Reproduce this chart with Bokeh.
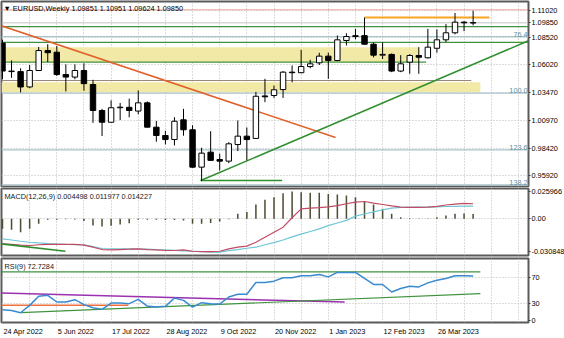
from bokeh.plotting import figure
from bokeh.layouts import column
from bokeh.models import (Range1d, FixedTicker, Label, ColumnDataSource, CustomJSTickFormatter,
                          AllLabels, LinearAxis)
from bokeh.core.properties import value
from bokeh.embed import file_html
from bokeh.resources import INLINE

# ---------------- data ----------------
week_index = list(range(53))
date_tick_index = [0, 6, 12, 18, 24, 30, 36, 42, 48]
date_tick_labels = ["24 Apr 2022", "5 Jun 2022", "17 Jul 2022", "28 Aug 2022", "9 Oct 2022",
                    "20 Nov 2022", "1 Jan 2023", "12 Feb 2023", "26 Mar 2023"]
grid_index = list(range(0, 58, 3))

opens = [1.0800, 1.0545, 1.0540, 1.0400, 1.0550, 1.0732, 1.0717, 1.0513, 1.0490, 1.0550,
         1.0422, 1.0185, 1.0078, 1.0212, 1.0214, 1.0180, 1.0255, 1.0033, 0.9957, 0.9920,
         1.0100, 1.0009, 0.9668, 0.9805, 0.9738, 0.9723, 0.9875, 0.9951, 0.9930, 1.0318,
         1.0322, 1.0376, 1.0535, 1.0530, 1.0586, 1.0620, 1.0681, 1.0641, 1.0824, 1.0860,
         1.0868, 1.0790, 1.0690, 1.0697, 1.0545, 1.0626, 1.0687, 1.0666, 1.0753, 1.0830,
         1.0894, 1.0991, 1.0985]
highs = [1.0830, 1.0642, 1.0570, 1.0600, 1.0765, 1.0790, 1.0773, 1.0606, 1.0606, 1.0615,
         1.0465, 1.0200, 1.0278, 1.0254, 1.0293, 1.0368, 1.0268, 1.0090, 1.0000, 1.0124,
         1.0200, 1.0051, 0.9845, 0.9996, 0.9790, 0.9896, 1.0094, 1.0030, 1.0355, 1.0474,
         1.0413, 1.0545, 1.0596, 1.0739, 1.0648, 1.0712, 1.0713, 1.0869, 1.0890, 1.0930,
         1.1033, 1.0805, 1.0805, 1.0705, 1.0690, 1.0700, 1.0763, 1.0930, 1.0925, 1.0973,
         1.1075, 1.1000, 1.1095]
lows = [1.0472, 1.0483, 1.0350, 1.0388, 1.0550, 1.0627, 1.0500, 1.0359, 1.0470, 1.0365,
        1.0072, 0.9952, 1.0077, 1.0098, 1.0123, 1.0150, 1.0030, 0.9900, 0.9875, 0.9866,
        0.9955, 0.9662, 0.9540, 0.9725, 0.9638, 0.9705, 0.9815, 0.9730, 0.9930, 1.0261,
        1.0300, 1.0300, 1.0443, 1.0525, 1.0570, 1.0600, 1.0474, 1.0635, 1.0778, 1.0835,
        1.0787, 1.0670, 1.0655, 1.0535, 1.0535, 1.0520, 1.0520, 1.0660, 1.0713, 1.0810,
        1.0880, 1.0909, 1.0962]
closes = [1.0545, 1.0540, 1.0400, 1.0550, 1.0732, 1.0712, 1.0513, 1.0490, 1.0550, 1.0430,
          1.0185, 1.0078, 1.0210, 1.0214, 1.0185, 1.0255, 1.0033, 0.9957, 0.9920, 1.0087,
          1.0009, 0.9668, 0.9796, 0.9730, 0.9723, 0.9881, 0.9951, 0.9920, 1.0315, 1.0310,
          1.0374, 1.0535, 1.0530, 1.0586, 1.0611, 1.0681, 1.0641, 1.0830, 1.0860, 1.0868,
          1.0790, 1.0690, 1.0697, 1.0545, 1.0611, 1.0687, 1.0671, 1.0763, 1.0830, 1.0894,
          1.0991, 1.0985, 1.0985]

macd_hist = [-0.0094, -0.0104, -0.0126, -0.0094, -0.0047, -0.0010, -0.0008, -0.0005, -0.0006, -0.0020,
             -0.0063, -0.0073, -0.0066, -0.0054, -0.0042, -0.0008, -0.0008, -0.0010, -0.0012, -0.0012,
             -0.0015, -0.0047, -0.0047, -0.0040, -0.0025, -0.0005, 0.0047, 0.0063, 0.0135, 0.0179,
             0.0204, 0.0241, 0.0257, 0.0250, 0.0245, 0.0245, 0.0235, 0.0229, 0.0220, 0.0204,
             0.0166, 0.0135, 0.0094, 0.0047, 0.0015, 0.0006, 0.0002, 0.0002, 0.0015, 0.0031,
             0.0047, 0.0050, 0.0045]
macd_red = [-0.0236, -0.0242, -0.0249, -0.0252, -0.0245, -0.0242, -0.0242, -0.0242, -0.0242, -0.0249,
            -0.0268, -0.0290, -0.0293, -0.0290, -0.0287, -0.0283, -0.0290, -0.0293, -0.0299, -0.0299,
            -0.0293, -0.0306, -0.0309, -0.0309, -0.0306, -0.0283, -0.0268, -0.0258, -0.0221, -0.0174,
            -0.0126, -0.0079, 0.0010, 0.0094, 0.0100, 0.0105, 0.0112, 0.0125, 0.0142, 0.0157,
            0.0163, 0.0147, 0.0135, 0.0122, 0.0110, 0.0108, 0.0108, 0.0110, 0.0118, 0.0130,
            0.0138, 0.0145, 0.0142]
macd_blue = [-0.0189, -0.0200, -0.0212, -0.0221, -0.0228, -0.0234, -0.0238, -0.0242, -0.0244, -0.0245,
             -0.0262, -0.0280, -0.0283, -0.0283, -0.0283, -0.0285, -0.0287, -0.0290, -0.0292, -0.0297,
             -0.0302, -0.0306, -0.0310, -0.0314, -0.0315, -0.0300, -0.0290, -0.0278, -0.0268, -0.0245,
             -0.0225, -0.0200, -0.0170, -0.0145, -0.0120, -0.0095, -0.0065, -0.0040, -0.0015, 0.0025,
             0.0045, 0.0065, 0.0085, 0.0100, 0.0108, 0.0110, 0.0110, 0.0110, 0.0112, 0.0116,
             0.0118, 0.0120, 0.0120]
rsi = [20.0, 18.9, 15.3, 26.8, 40.9, 42.5, 32.0, 32.0, 35.7, 27.9,
       23.1, 20.5, 30.4, 30.4, 29.4, 36.2, 25.7, 24.1, 25.2, 38.3,
       34.6, 24.1, 31.0, 29.4, 28.8, 39.8, 44.1, 44.1, 62.5, 62.5,
       64.6, 69.8, 69.8, 72.9, 72.9, 75.1, 71.3, 78.3, 78.3, 78.3,
       68.8, 59.4, 59.4, 47.7, 53.1, 56.7, 55.6, 61.9, 66.1, 68.8,
       72.9, 72.9, 72.7]

price_ticks = [1.11020, 1.08520, 1.06020, 1.03470, 1.00970, 0.98420, 0.95920]
last_price = 1.09850
macd_ticks = [0.025966, 0.0, -0.030848]
rsi_tick_values = [70, 30, 3]              # where MT4 prints the scale labels
rsi_tick_labels = ["70", "30", "0"]
rsi_top_tick, rsi_top_label = 94, "100"
rsi_levels = [70, 30]

# drawn levels / objects (price units, week-index units)
red_dotted_level = 1.1104
green_levels = [1.0951, 1.0806]
green_level_short = 1.0626
brown_level = 1.0459
zone_upper = (1.0763, 1.0626)
zone_lower = (1.0443, 1.0352)
fib_names = ["76.4", "100.0", "123.6", "138.2"]
fib_prices = [1.0860, 1.0343, 0.9826, 0.9506]
orange_level = 1.1033
down_trend = ([-0.22, 36.8], [1.0961, 0.9939])
up_trend = ([21.9, 58.12], [0.9546, 1.0821])
low_level = ([21.9, 30.9], 0.9546)
macd_trend = ([-0.22, 6.96], [-0.0236, -0.0306])
rsi_top_level = 79.0
rsi_purple = ([-0.22, 37.8], [46.1, 31.9])
rsi_orange = ([-0.22, 13.9], 26.8)
rsi_green = ([2.0, 52.8], [15.3, 45.2])

# ---------------- styling ----------------
FONT = "Liberation Sans"
FS = "7.3px"
XMIN, XMAX = -0.11, 58.12
FRAME_W = 527
GRID = "#b9b9b9"

xr = Range1d(XMIN, XMAX)


def style_axis(ax):
    ax.major_tick_out = 2
    ax.major_tick_in = 0
    ax.minor_tick_out = 0
    ax.minor_tick_in = 0
    ax.major_label_standoff = 1
    ax.axis_line_color = None
    ax.major_tick_line_color = "#404040"
    ax.major_label_text_font = FONT
    ax.major_label_text_font_size = FS
    ax.major_label_text_color = "#000000"
    ax.major_label_policy = AllLabels()


def base_fig(frame_h, yr, top, bottom):
    p = figure(frame_width=FRAME_W, frame_height=frame_h, x_range=xr, y_range=yr,
               toolbar_location=None, output_backend="svg", y_axis_location="right",
               min_border_left=1, min_border_right=36, min_border_top=top,
               min_border_bottom=bottom)
    p.outline_line_color = "#5a5a5a"
    p.outline_line_width = 2
    p.background_fill_color = "white"
    p.border_fill_color = "white"
    p.xaxis.visible = False
    p.xgrid.ticker = FixedTicker(ticks=grid_index)
    p.xgrid.grid_line_color = GRID
    p.xgrid.grid_line_dash = "1 2"
    p.ygrid.grid_line_color = GRID
    p.ygrid.grid_line_dash = "1 2"
    style_axis(p.yaxis[0])
    return p


# ---------------- main price panel ----------------
p1 = base_fig(185, Range1d(0.94916, 1.11796), 1, 1)
p1.yaxis[0].ticker = FixedTicker(ticks=price_ticks + [last_price])
p1.ygrid.ticker = FixedTicker(ticks=price_ticks)
p1.yaxis[0].formatter = CustomJSTickFormatter(code="return tick.toFixed(5)")

p1.quad(left=[XMIN, XMIN], right=[46.0, 52.8], top=[zone_upper[0], zone_lower[0]],
        bottom=[zone_upper[1], zone_lower[1]], fill_color="#f3e9a6", line_color=None)
p1.segment(x0=XMIN, x1=XMAX, y0=red_dotted_level, y1=red_dotted_level,
           line_color="#e2553a", line_width=1, line_dash="1 1")
for lv in green_levels:
    p1.segment(x0=XMIN, x1=XMAX, y0=lv, y1=lv, line_color="#3f933f", line_width=1.2)
p1.segment(x0=XMIN, x1=46.8, y0=green_level_short, y1=green_level_short,
           line_color="#3f933f", line_width=1.2)
p1.segment(x0=XMIN, x1=51.8, y0=brown_level, y1=brown_level, line_color="#9b8878", line_width=1.2)
for nm, lv in zip(fib_names, fib_prices):
    p1.segment(x0=XMIN, x1=XMAX, y0=lv, y1=lv, line_color="#a9c5cd", line_width=1.2)
    p1.add_layout(Label(x=XMAX - 0.1, y=lv, text=nm, text_align="right", text_baseline="bottom",
                        text_font=FONT, text_font_size=FS, text_color="#5e93a3"))
p1.segment(x0=XMIN, x1=XMAX, y0=last_price, y1=last_price, line_color="#c3c3c3", line_width=1)
p1.segment(x0=40, x1=53.8, y0=orange_level, y1=orange_level, line_color="#f5a623", line_width=2)
p1.line(down_trend[0], down_trend[1], line_color="#e0602a", line_width=1.5)
p1.line(up_trend[0], up_trend[1], line_color="#2f8f2f", line_width=1.5)
p1.segment(x0=low_level[0][0], x1=low_level[0][1], y0=low_level[1], y1=low_level[1],
           line_color="#2f8f2f", line_width=1.5)

body_top = [max(o, c) + 0.00015 if abs(o - c) < 0.0003 else max(o, c) for o, c in zip(opens, closes)]
body_bot = [min(o, c) - 0.00015 if abs(o - c) < 0.0003 else min(o, c) for o, c in zip(opens, closes)]
fills = ["white" if c > o else "black" for o, c in zip(opens, closes)]
csrc = ColumnDataSource(dict(x=week_index, h=highs, l=lows, t=body_top, b=body_bot, f=fills))
p1.segment(x0="x", x1="x", y0="l", y1="h", source=csrc, line_color="black", line_width=1)
p1.vbar(x="x", width=0.6, top="t", bottom="b", fill_color="f", line_color="black",
        line_width=1, source=csrc)

p1.add_layout(Label(x=2, y=183, x_units="screen", y_units="screen",
                    text="\u25bc EURUSD,Weekly  1.09851 1.10951 1.09624 1.09850",
                    text_baseline="top", text_font=FONT, text_font_size=FS, text_color="#000000"))

# ---------------- MACD panel ----------------
p2 = base_fig(67, Range1d(-0.03462, 0.02858), 1, 2)
p2.yaxis[0].ticker = FixedTicker(ticks=macd_ticks)
p2.ygrid.ticker = FixedTicker(ticks=[0.0])
p2.yaxis[0].formatter = CustomJSTickFormatter(
    code="return tick === 0 ? '0.00' : tick.toFixed(6)")
p2.vbar(x=week_index, width=0.17, top=macd_hist, bottom=0, fill_color="#4f4f35",
        line_color=None)
p2.line(week_index, macd_blue, line_color="#6ec6d6", line_width=1.2)
p2.line(week_index, macd_red, line_color="#c24a62", line_width=1.2)
p2.line(macd_trend[0], macd_trend[1], line_color="#2f8f2f", line_width=1.5)
p2.add_layout(Label(x=3, y=64, x_units="screen", y_units="screen",
                    text="MACD(12,26,9) 0.004498 0.011977 0.014227", text_baseline="top",
                    text_font=FONT, text_font_size=FS, text_color="#202020"))

# ---------------- RSI panel ----------------
p3 = base_fig(64, Range1d(0, 100), 1, 3)
p3.yaxis[0].ticker = FixedTicker(ticks=rsi_tick_values)
rsi_map = ", ".join(f"{v}: '{t}'" for v, t in zip(rsi_tick_values, rsi_tick_labels))
p3.yaxis[0].formatter = CustomJSTickFormatter(
    code="const m = {" + rsi_map + "}; const k = Math.round(tick); return (k in m) ? m[k] : String(k);")
top_axis = LinearAxis(ticker=FixedTicker(ticks=[rsi_top_tick]), fixed_location=XMAX,
                      formatter=CustomJSTickFormatter(code="return '" + rsi_top_label + "';"))
style_axis(top_axis)
p3.add_layout(top_axis, "right")
p3.ygrid.ticker = FixedTicker(ticks=rsi_levels)
p3.segment(x0=XMIN, x1=52.8, y0=rsi_top_level, y1=rsi_top_level, line_color="#3f933f",
           line_width=1.2)
p3.line(rsi_purple[0], rsi_purple[1], line_color="#9b30b0", line_width=1.5)
p3.segment(x0=rsi_orange[0][0], x1=rsi_orange[0][1], y0=rsi_orange[1], y1=rsi_orange[1],
           line_color="#f07040", line_width=1.5)
p3.line(rsi_green[0], rsi_green[1], line_color="#3f933f", line_width=1.2)
p3.line(week_index, rsi, line_color="#3a8ad0", line_width=1.5)
p3.add_layout(Label(x=3, y=61, x_units="screen", y_units="screen", text="RSI(9) 72.7284",
                    text_baseline="top", text_font=FONT, text_font_size=FS,
                    text_color="#202020"))

# ---------------- date strip ----------------
p4 = figure(frame_width=FRAME_W, frame_height=13, x_range=xr, y_range=Range1d(0, 1),
            toolbar_location=None, output_backend="svg", min_border_left=1,
            min_border_right=36, min_border_top=0, min_border_bottom=0)
p4.axis.visible = False
p4.grid.visible = False
p4.outline_line_color = None
p4.text(x=date_tick_index, y=1, text=date_tick_labels, x_offset=1, y_offset=1,
        text_align="left", text_baseline="top", text_font=value(FONT),
        text_font_size=value(FS), text_color="#000000")

layout = column(p1, p2, p3, p4, spacing=0)
open("out.html", "w").write(file_html(layout, INLINE))
